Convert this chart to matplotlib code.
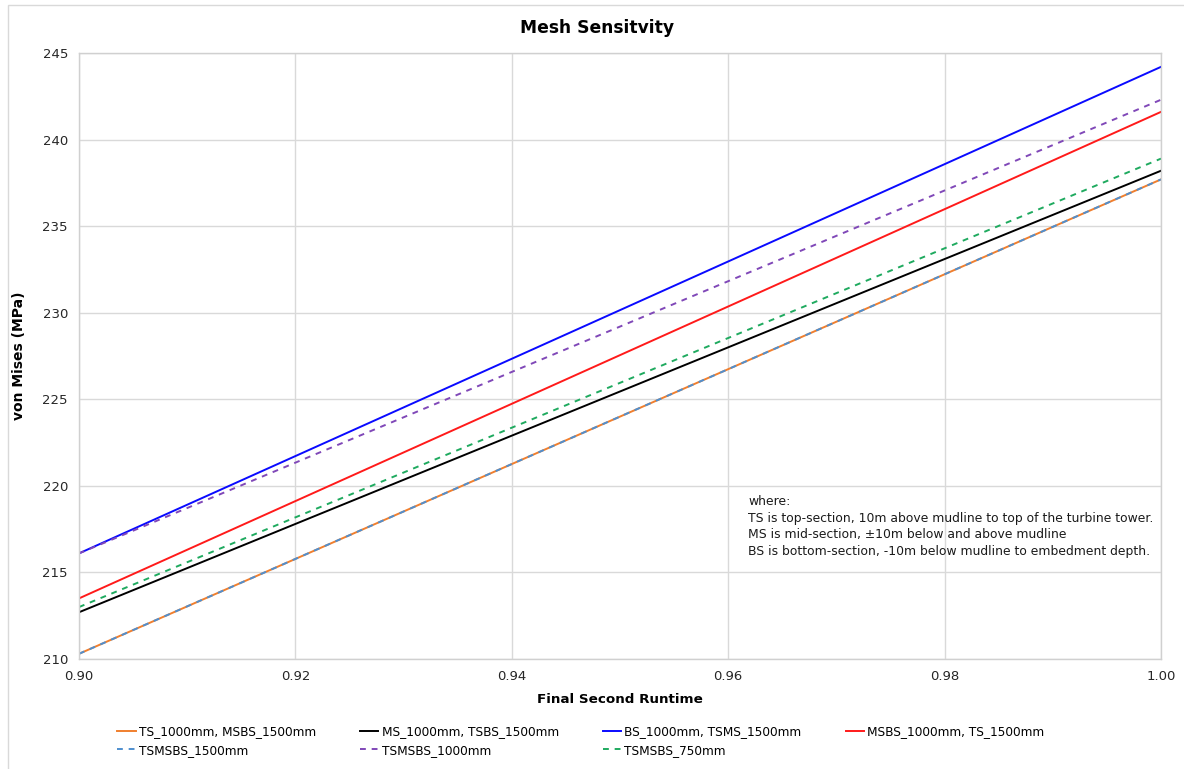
import matplotlib
matplotlib.use("Agg")
import matplotlib.pyplot as plt

x_vals = [0.90, 1.00]
series_names = [
    "TS_1000mm, MSBS_1500mm",
    "MS_1000mm, TSBS_1500mm",
    "BS_1000mm, TSMS_1500mm",
    "MSBS_1000mm, TS_1500mm",
    "TSMSBS_1500mm",
    "TSMSBS_1000mm",
    "TSMSBS_750mm",
]
ts1000 = [210.3, 237.7]
ms1000 = [212.7, 238.2]
bs1000 = [216.1, 244.2]
msbs1000 = [213.5, 241.6]
tsmsbs1500 = [210.3, 237.7]
tsmsbs1000 = [216.1, 242.3]
tsmsbs750 = [213.0, 238.9]
series_values = [ts1000, ms1000, bs1000, msbs1000, tsmsbs1500, tsmsbs1000, tsmsbs750]
colors = ["#f07f2e", "#000000", "#0a0aff", "#ff1a1a", "#4f8fcf", "#8048b8", "#1faa5f"]
styles = ["-", "-", "-", "-", "--", "--", "--"]

x_ticks = [0.90, 0.92, 0.94, 0.96, 0.98, 1.00]
x_ticklabels = ["0.90", "0.92", "0.94", "0.96", "0.98", "1.00"]
y_ticks = [210, 215, 220, 225, 230, 235, 240, 245]

note = ("where:\n"
        "TS is top-section, 10m above mudline to top of the turbine tower.\n"
        "MS is mid-section, \u00b110m below and above mudline\n"
        "BS is bottom-section, -10m below mudline to embedment depth.")

plt.rcParams['font.family'] = ['DejaVu Sans']
fig = plt.figure(figsize=(11.84, 7.69), dpi=100)
ax = fig.add_axes([79/1184, 1-659/769, (1161-79)/1184, (659-53)/769])

handles = []
for name, vals, c, ls in zip(series_names, series_values, colors, styles):
    h, = ax.plot(x_vals, vals, color=c, linestyle=ls, linewidth=1.4,
                 dashes=(3, 3) if ls == "--" else (None, None), label=name)
    handles.append(h)

ax.set_xlim(0.90, 1.00)
ax.set_ylim(210, 245)
ax.set_xticks(x_ticks)
ax.set_xticklabels(x_ticklabels)
ax.set_yticks(y_ticks)
ax.grid(True, color="#d9d9d9", linewidth=1)
ax.set_axisbelow(True)
for s in ax.spines.values():
    s.set_color("#d0d0d0")
    s.set_linewidth(1)
ax.tick_params(length=0, labelsize=9.5, labelcolor="#262626", pad=8)

ax.set_xlabel("Final Second Runtime", fontsize=9.7, fontweight="bold", labelpad=7)
ax.set_ylabel("von Mises (MPa)", fontsize=10, fontweight="bold", labelpad=12)
fig.text(597/1184, 1-28/769, "Mesh Sensitvity", ha="center", va="center",
         fontsize=12.3, fontweight="bold")

fig.text(748/1184, 1-495/769, note, ha="left", va="top",
         fontsize=8.9, linespacing=1.37, color="#1a1a1a")

order = [0, 4, 1, 5, 2, 6, 3]
leg = fig.legend([handles[i] for i in order], [series_names[i] for i in order],
                 ncol=4, loc="center", bbox_to_anchor=(581/1184, 1-741/769),
                 frameon=False, fontsize=8.7, handlelength=1.5, handletextpad=0.25,
                 columnspacing=3.7, labelspacing=0.45)

# outer chart border (top/left visible)
fig.add_artist(plt.Rectangle((8/1184, -0.01), 1.1, 1-5/769 + 0.01,
                             transform=fig.transFigure, fill=False,
                             edgecolor="#d9d9d9", linewidth=1))

fig.savefig("out.png", dpi=100)
